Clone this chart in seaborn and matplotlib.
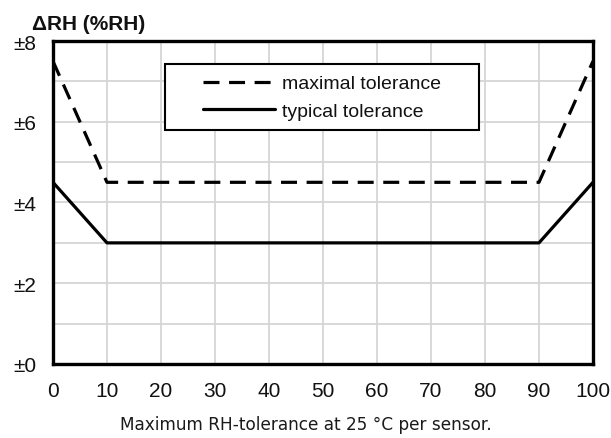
import matplotlib
matplotlib.use("Agg")
import matplotlib.pyplot as plt
import seaborn as sns
import pandas as pd
from matplotlib.patches import Rectangle
from matplotlib.lines import Line2D

rh = [0, 10, 90, 100]
maximal = [7.5, 4.5, 4.5, 7.5]
typical = [4.5, 3.0, 3.0, 4.5]
series_names = ["maximal tolerance", "typical tolerance"]
x_ticks = [0, 10, 20, 30, 40, 50, 60, 70, 80, 90, 100]
y_ticks = [0, 2, 4, 6, 8]
y_labels = ["±0", "±2", "±4", "±6", "±8"]

df = pd.DataFrame({
    "rh": rh * 2,
    "tol": maximal + typical,
    "series": [series_names[0]] * len(rh) + [series_names[1]] * len(rh),
})

sns.set_theme(style="white")
narrow = ["Liberation Sans Narrow", "Liberation Sans", "DejaVu Sans"]

fig = plt.figure(figsize=(6.11, 4.39), dpi=100)
ax = fig.add_axes([0.0867, 0.1686, 0.8838, 0.7357])

lw = 2.3
sns.lineplot(data=df, x="rh", y="tol", style="series",
             dashes={series_names[0]: (5, 3), series_names[1]: ""},
             color="black", linewidth=lw, ax=ax, legend=False, zorder=3)

ax.set_xlim(0, 100)
ax.set_ylim(0, 8)
ax.set_xticks(x_ticks)
ax.set_yticks(y_ticks)
ax.set_yticklabels(y_labels)
ax.set_yticks(range(0, 9), minor=True)
ax.grid(True, which="both", axis="y", color="#d6d6d6", linewidth=1.3)
ax.grid(True, which="major", axis="x", color="#d6d6d6", linewidth=1.3)
ax.set_axisbelow(True)
for s in ax.spines.values():
    s.set_color("black")
    s.set_linewidth(2.4)
ax.tick_params(axis="both", which="major", direction="out", length=6, width=1.8,
               color="black", labelsize=15, pad=6)
ax.tick_params(axis="y", which="minor", length=0)
for lab in ax.get_xticklabels() + ax.get_yticklabels():
    lab.set_family(narrow)
    lab.set_color("#111111")
ax.set_xlabel("")
ax.set_ylabel("")

# legend
ax.add_patch(Rectangle((0.207, 0.724), 0.582, 0.205, transform=ax.transAxes,
                       facecolor="white", edgecolor="black", linewidth=1.5, zorder=4))
handles = [Line2D([], [], color="black", linewidth=lw, dashes=(5, 3)),
           Line2D([], [], color="black", linewidth=lw)]
leg = ax.legend(handles, series_names, loc="center", bbox_to_anchor=(0.498, 0.826),
                frameon=False, handlelength=3.7, handletextpad=0.35, labelspacing=0.5,
                prop={"family": narrow, "size": 14})
leg.set_zorder(5)
for t in leg.get_texts():
    t.set_color("#111111")

fig.text(0.053, 0.932, "ΔRH (%RH)", family=narrow, fontweight="bold", fontsize=15,
         color="#111111", ha="left", va="baseline")
fig.text(0.5, 0.012, "Maximum RH-tolerance at 25 °C per sensor.", family="DejaVu Sans",
         fontsize=12.2, color="#1a1a1a", ha="center", va="bottom")

fig.savefig("out.png", dpi=100, facecolor="white")
